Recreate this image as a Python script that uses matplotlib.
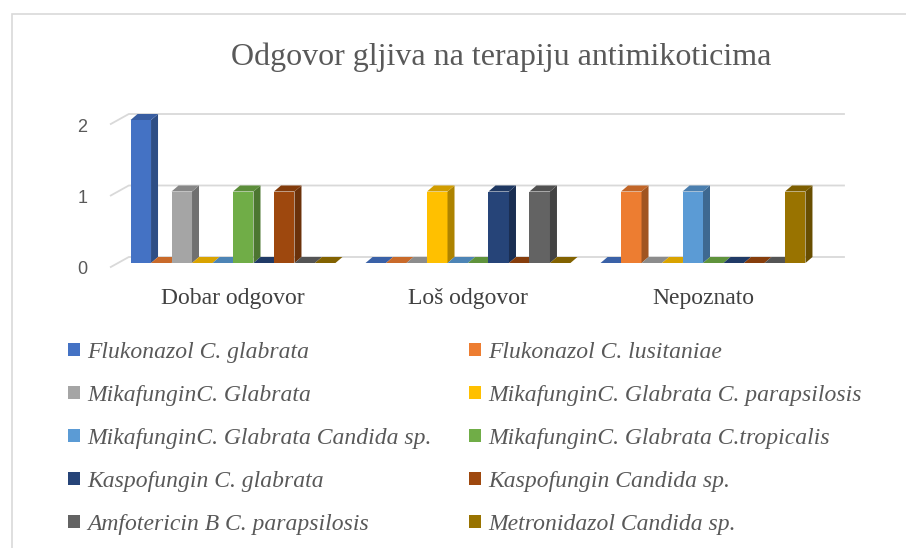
import matplotlib.pyplot as plt
import matplotlib.patches as mpatches
import matplotlib.transforms as mtransforms
import numpy as np

categories = ['Dobar odgovor', 'Loš odgovor', 'Nepoznato']
series = ['Flukonazol C. glabrata', 'Flukonazol C. lusitaniae',
          'MikafunginC. Glabrata', 'MikafunginC. Glabrata C. parapsilosis',
          'MikafunginC. Glabrata Candida sp.', 'MikafunginC. Glabrata C.tropicalis',
          'Kaspofungin C. glabrata', 'Kaspofungin Candida sp.',
          'Amfotericin B C. parapsilosis', 'Metronidazol Candida sp.']
colors = ['#4472C4', '#ED7D31', '#A5A5A5', '#FFC000', '#5B9BD5',
          '#70AD47', '#264478', '#9E480E', '#636363', '#997300']

# counts per series for each category
dobar = [2, 0, 1, 0, 0, 1, 0, 1, 0, 0]
los = [0, 0, 0, 1, 0, 0, 1, 0, 1, 0]
nepoznato = [0, 1, 0, 0, 1, 0, 0, 0, 0, 1]
yticks = [0, 1, 2]

counts = np.array([dobar, los, nepoznato])

W, H = 906, 548
fig = plt.figure(figsize=(W / 100, H / 100), dpi=100)
fig.patch.set_facecolor('white')

# chart frame
fig.add_artist(mpatches.Rectangle((12 / W, -0.01), 1.0, 1 - 14 / H + 0.01,
                                  transform=fig.transFigure, fill=False,
                                  edgecolor='#d9d9d9', linewidth=1.2))

xlim = (-0.52, 2.6)
sx = 235.0   # px per category
sy = 71.5    # px per unit of value
ax_left = 233 - (0 - xlim[0]) * sx
ax_w = (xlim[1] - xlim[0]) * sx
ax = fig.add_axes([ax_left / W, (H - 263) / H, ax_w / W, 2 * sy / H])
ax.set_xlim(*xlim)
ax.set_ylim(0, 2)
for s in ax.spines.values():
    s.set_visible(False)
ax.patch.set_alpha(0)

def shade(c, f):
    rgb = np.array(plt.matplotlib.colors.to_rgb(c))
    return tuple(rgb * f)

# depth offsets in data units
bdx, bdy = 7 / sx, 6 / sy      # bar depth
gdx, gdy = 18 / sx, 10 / sy    # floor / wall depth

# gridlines on the back wall
for v in yticks:
    ax.plot([xlim[0], xlim[0] + gdx, xlim[1]], [v - 4 / sy, v + gdy - 4 / sy, v + gdy - 4 / sy],
            color='#d9d9d9', linewidth=1.3, clip_on=False, zorder=0)

n = len(series)
bw = 0.0872
offsets = (np.arange(n) - (n - 1) / 2) * bw
z = 2
for ci in range(len(categories)):
    for si in range(n):
        v = counts[ci, si]
        x0 = ci + offsets[si] - bw / 2
        c = colors[si]
        top = [(x0, v), (x0 + bw, v), (x0 + bw + bdx, v + bdy), (x0 + bdx, v + bdy)]
        if v > 0:
            ax.bar(ci + offsets[si], v, width=bw, color=c, zorder=z, clip_on=False,
                   linewidth=0)
            side = [(x0 + bw, 0), (x0 + bw + bdx, bdy), (x0 + bw + bdx, v + bdy), (x0 + bw, v)]
            ax.add_patch(mpatches.Polygon(side, closed=True, facecolor=shade(c, 0.68),
                                          linewidth=0, zorder=z, clip_on=False))
            ax.add_patch(mpatches.Polygon(top, closed=True, facecolor=shade(c, 0.82),
                                          linewidth=0, zorder=z, clip_on=False))
        else:
            ax.add_patch(mpatches.Polygon(top, closed=True, facecolor=shade(c, 0.85),
                                          linewidth=0, zorder=z, clip_on=False))
        z += 1

ax.set_yticks(yticks)
ax.set_yticklabels([str(t) for t in yticks], fontfamily='Liberation Sans',
                   fontsize=13, color='#595959')
ax.tick_params(axis='y', length=0, pad=17)
shift = mtransforms.ScaledTranslation(0, -5 / 100, fig.dpi_scale_trans)
for lbl in ax.get_yticklabels():
    lbl.set_transform(lbl.get_transform() + shift)
ax.set_xticks(range(len(categories)))
ax.set_xticklabels(categories, fontfamily='Liberation Serif', fontsize=17,
                   color='#404040')
ax.tick_params(axis='x', length=0, pad=18)

fig.text(0.553, 1 - 57 / H, 'Odgovor gljiva na terapiju antimikoticima',
         fontfamily='Liberation Serif', fontsize=23, color='#595959',
         ha='center', va='center')

# legend fills column-wise, so reorder to read row by row
order = list(range(0, n, 2)) + list(range(1, n, 2))
handles = [mpatches.Patch(facecolor=colors[i], edgecolor='none') for i in order]
labels = [series[i] for i in order]
leg = fig.legend(handles, labels, loc='upper left', bbox_to_anchor=(68 / W, 1 - 342 / H),
                 ncol=2, frameon=False, prop={'family': 'Liberation Serif',
                                              'style': 'italic', 'size': 17},
                 handlelength=0.5, handleheight=0.5, handletextpad=0.3,
                 labelspacing=0.93, columnspacing=1.6, borderaxespad=0, borderpad=0)
for t in leg.get_texts():
    t.set_color('#595959')

fig.savefig('out.png', dpi=100)
